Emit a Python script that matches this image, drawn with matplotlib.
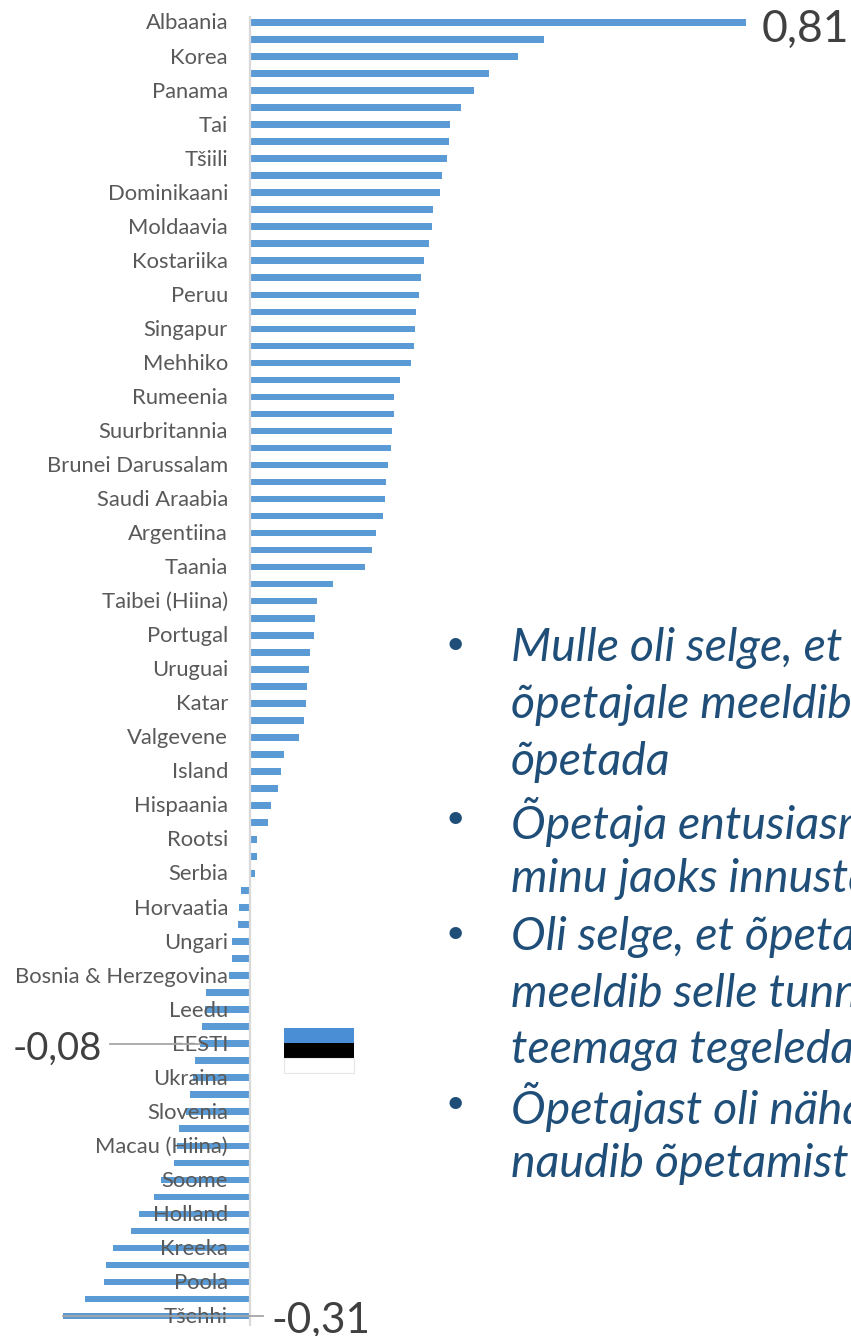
import numpy as np
import matplotlib
matplotlib.use('Agg')
import matplotlib.pyplot as plt
from matplotlib.patches import Rectangle

plt.rcParams['font.family'] = ['Lato', 'DejaVu Sans']

# every second country is labelled on the axis, as in the original
silt = ['Albaania', 'Korea', 'Panama', 'Tai', 'Tšiili', 'Dominikaani', 'Moldaavia', 'Kostariika',
        'Peruu', 'Singapur', 'Mehhiko', 'Rumeenia', 'Suurbritannia', 'Brunei Darussalam',
        'Saudi Araabia', 'Argentiina', 'Taania', 'Taibei (Hiina)', 'Portugal', 'Uruguai', 'Katar',
        'Valgevene', 'Island', 'Hispaania', 'Rootsi', 'Serbia', 'Horvaatia', 'Ungari',
        'Bosnia & Herzegovina', 'Leedu', 'EESTI', 'Ukraina', 'Slovenia', 'Macau (Hiina)', 'Soome',
        'Holland', 'Kreeka', 'Poola', 'Tšehhi']

vaartused = [0.810, 0.480, 0.437, 0.390, 0.365, 0.344, 0.326, 0.325, 0.321, 0.313,
             0.310, 0.298, 0.297, 0.292, 0.284, 0.279, 0.276, 0.271, 0.269, 0.267,
             0.262, 0.245, 0.235, 0.234, 0.231, 0.230, 0.224, 0.222, 0.220, 0.216,
             0.205, 0.199, 0.188, 0.135, 0.109, 0.105, 0.103, 0.098, 0.096, 0.092,
             0.091, 0.087, 0.080, 0.055, 0.050, 0.045, 0.034, 0.029, 0.011, 0.010,
             0.008, -0.016, -0.019, -0.020, -0.030, -0.031, -0.035, -0.073, -0.074, -0.080,
             -0.083, -0.090, -0.094, -0.099, -0.105, -0.117, -0.120, -0.125, -0.147, -0.158,
             -0.182, -0.195, -0.225, -0.236, -0.239, -0.271, -0.307]

tekst = [('•', 'Mulle oli selge, et'), ('', 'õpetajale meeldib'), ('', 'õpetada'),
         ('•', 'Õpetaja entusiasm oli'), ('', 'minu jaoks innustav'),
         ('•', 'Oli selge, et õpetajale'), ('', 'meeldib selle tunni'), ('', 'teemaga tegeleda'),
         ('•', 'Õpetajast oli näha, et ta'), ('', 'naudib õpetamist')]
tekst_y = [648, 705, 762, 822, 879, 937, 994, 1050, 1107, 1164]

L, K = 851, 1336
fig = plt.figure(figsize=(L / 100, K / 100), dpi=100)
ax = fig.add_axes([0, 0, 1, 1])

y = np.arange(len(vaartused))
ax.barh(y, vaartused, height=0.39, color='#5B9BD5')

# teljed nii, et x=0 on pikslil 250.5 ja esimene tulp y=22 juures
ax.set_xlim(-250.5 / 611.7, (L - 250.5) / 611.7)
ax.set_ylim((K - 22.5) / 17.02, -22.5 / 17.02)

for s in ax.spines.values():
    s.set_visible(False)
ax.vlines(0, -0.4, 76.6, color='#D9D9D9', lw=1.6, zorder=1.2)
ax.set_xticks([])
ax.set_yticks(y[::2] - 0.06)  # sildid veidi ülevalpool tulba keskpunkti
ax.set_yticklabels(silt, fontsize=15.8, color='#595959')
ax.tick_params(axis='y', length=0, pad=-228 * 0.72)

# väljatõstetud väärtused
ax.annotate('0,81', (vaartused[0], 0), xytext=(762, K - 29), textcoords='figure pixels',
            fontsize=32, color='#404040', va='center', ha='left')
ax.plot([-0.229, vaartused[60]], [60, 60], color='#A6A6A6', lw=1.3, zorder=2)
ax.annotate('-0,08', (vaartused[60], 60), xytext=(102, K - 1049), textcoords='figure pixels',
            fontsize=27.5, color='#404040', va='center', ha='right')
ax.plot([vaartused[76], 0.02], [76, 76], color='#A6A6A6', lw=1.3, zorder=2)
ax.annotate('-0,31', (vaartused[76], 76), xytext=(271, K - 1320), textcoords='figure pixels',
            fontsize=30.5, color='#404040', va='center', ha='left')

# Eesti lipp
varvid = ['#4A8FD6', '#000000', '#FFFFFF']
for i, v in enumerate(varvid):
    fig.add_artist(Rectangle((284 / L, 1 - (1028 + 15 * (i + 1)) / K), 70 / L, 15 / K,
                             transform=fig.transFigure, facecolor=v,
                             edgecolor='#E6E6E6' if i == 2 else 'none', lw=0.8))

for (tapp, rida), yy in zip(tekst, tekst_y):
    if tapp:
        fig.text(455 / L, 1 - (yy - 3) / K, tapp, fontsize=24, color='#1F4E79', ha='center', va='center')
    fig.text(511 / L, 1 - yy / K, rida, fontsize=33.5, style='italic', color='#1F4E79', va='center')

fig.savefig('out.png', dpi=100)
